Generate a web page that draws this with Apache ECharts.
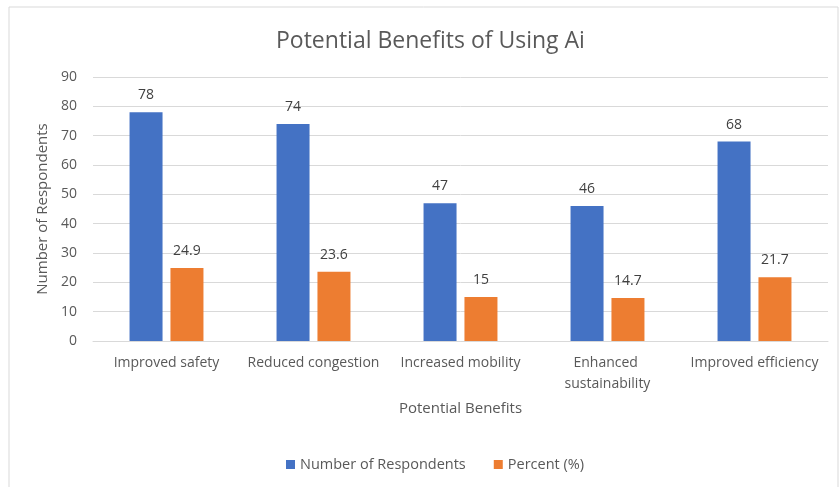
<!DOCTYPE html>
<html>
<head>
<meta charset="utf-8">
<style>
  html, body { margin: 0; padding: 0; background: #fff; }
  #chart { width: 839px; height: 487px; }
</style>
<script src="https://cdn.jsdelivr.net/npm/echarts@6/dist/echarts.min.js"></script>
</head>
<body>
<div id="chart"></div>
<script>
var categories = ['Improved safety', 'Reduced congestion', 'Increased mobility', 'Enhanced sustainability', 'Improved efficiency']
var respondents = [78, 74, 47, 46, 68]
var percent = [24.9, 23.6, 15, 14.7, 21.7]
var yTicks = { min: 0, max: 90, interval: 10 }

var font = '"Open Sans", "Noto Sans", sans-serif'
var grey = '#595959'

var myChart = echarts.init(document.getElementById('chart'))
var option = {
  animation: false,
  textStyle: { fontFamily: font },
  color: ['#4472C4', '#ED7D31'],
  graphic: [{
    type: 'rect',
    shape: { x: 9, y: 7, width: 829, height: 500 },
    style: { fill: 'none', stroke: '#D9D9D9', lineWidth: 1 },
    silent: true
  }],
  title: {
    text: 'Potential Benefits of Using Ai',
    left: 271,
    top: 25,
    textStyle: { fontFamily: font, fontSize: 23, fontWeight: 'normal', color: grey }
  },
  grid: { left: 93, right: 11, top: 77, bottom: 146 },
  legend: {
    top: 452,
    left: 281,
    icon: 'rect',
    itemWidth: 9,
    itemHeight: 9,
    itemGap: 28,
    textStyle: { fontFamily: font, fontSize: 14.5, color: grey }
  },
  xAxis: {
    type: 'category',
    data: categories,
    name: 'Potential Benefits',
    nameLocation: 'middle',
    nameGap: 60,
    nameTextStyle: { fontFamily: font, fontSize: 15, color: grey },
    axisLine: { lineStyle: { color: '#D9D9D9' } },
    axisTick: { show: false },
    axisLabel: {
      interval: 0,
      color: grey, fontSize: 14, fontFamily: font, margin: 12,
      width: 145, overflow: 'break', lineHeight: 21
    }
  },
  yAxis: {
    type: 'value',
    min: yTicks.min,
    max: yTicks.max,
    interval: yTicks.interval,
    name: 'Number of Respondents',
    nameLocation: 'middle',
    nameGap: 41,
    nameTextStyle: { fontFamily: font, fontSize: 15, color: grey },
    axisLine: { show: false },
    axisTick: { show: false },
    axisLabel: { color: grey, fontSize: 14, fontFamily: font, margin: 16 },
    splitLine: { lineStyle: { color: '#D9D9D9' } }
  },
  series: [
    {
      name: 'Number of Respondents',
      type: 'bar',
      data: respondents,
      barWidth: 33,
      barGap: '24%',
      label: { show: true, position: 'top', distance: 10, color: '#404040', fontSize: 14, fontFamily: font }
    },
    {
      name: 'Percent (%)',
      type: 'bar',
      data: percent,
      barWidth: 33,
      label: { show: true, position: 'top', distance: 10, color: '#404040', fontSize: 14, fontFamily: font }
    }
  ]
}
myChart.setOption(option)
</script>
</body>
</html>
